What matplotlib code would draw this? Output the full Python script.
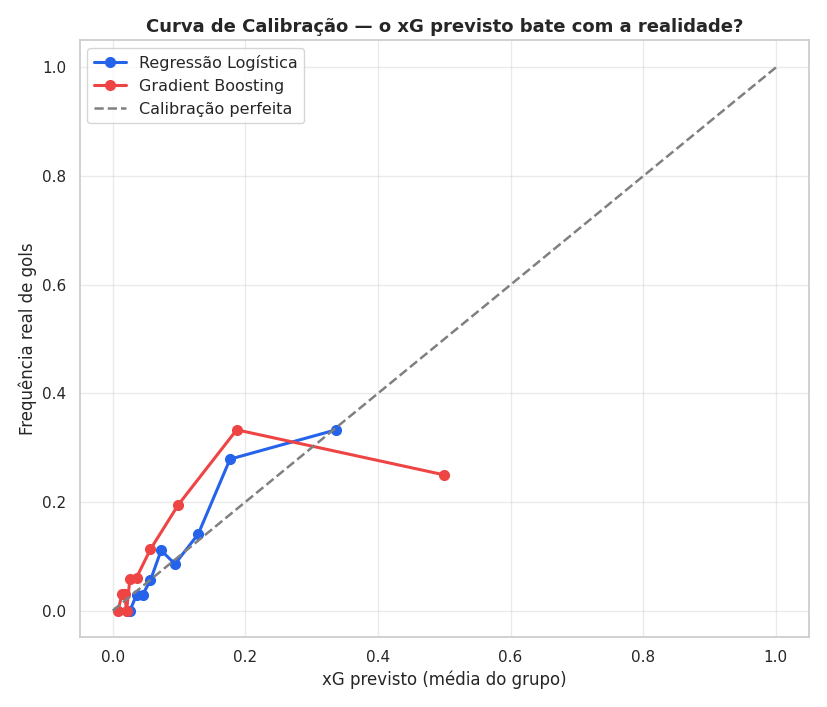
import matplotlib
matplotlib.use("Agg")
import matplotlib.pyplot as plt
import seaborn as sns

sns.set_theme(style="whitegrid")

lr_x = [0.021, 0.026, 0.036, 0.045, 0.057, 0.073, 0.094, 0.129, 0.177, 0.337]
lr_y = [0.0, 0.0, 0.029, 0.029, 0.056, 0.111, 0.086, 0.141, 0.279, 0.333]
gb_x = [0.008, 0.014, 0.018, 0.021, 0.026, 0.036, 0.057, 0.099, 0.187, 0.5]
gb_y = [0.0, 0.03, 0.03, 0.0, 0.058, 0.061, 0.113, 0.195, 0.333, 0.25]

fig, ax = plt.subplots(figsize=(8.27, 7.07), dpi=100)
ax.plot(lr_x, lr_y, "o-", color="#2563eb", lw=2.2, ms=7, label="Regressão Logística")
ax.plot(gb_x, gb_y, "o-", color="#ef4444", lw=2.2, ms=7, label="Gradient Boosting")
ax.plot([0, 1], [0, 1], "--", color="gray", lw=1.8, label="Calibração perfeita")

ax.set_xlim(-0.05, 1.05)
ax.set_ylim(-0.048, 1.05)
ax.grid(alpha=0.4)
for s in ax.spines.values():
    s.set_color("#cccccc")
ax.set_xlabel("xG previsto (média do grupo)")
ax.set_ylabel("Frequência real de gols")
ax.set_title("Curva de Calibração — o xG previsto bate com a realidade?", fontweight="bold", fontsize=13)
ax.legend(loc="upper left", fontsize=11.5)
fig.tight_layout()
fig.savefig("out.png")
